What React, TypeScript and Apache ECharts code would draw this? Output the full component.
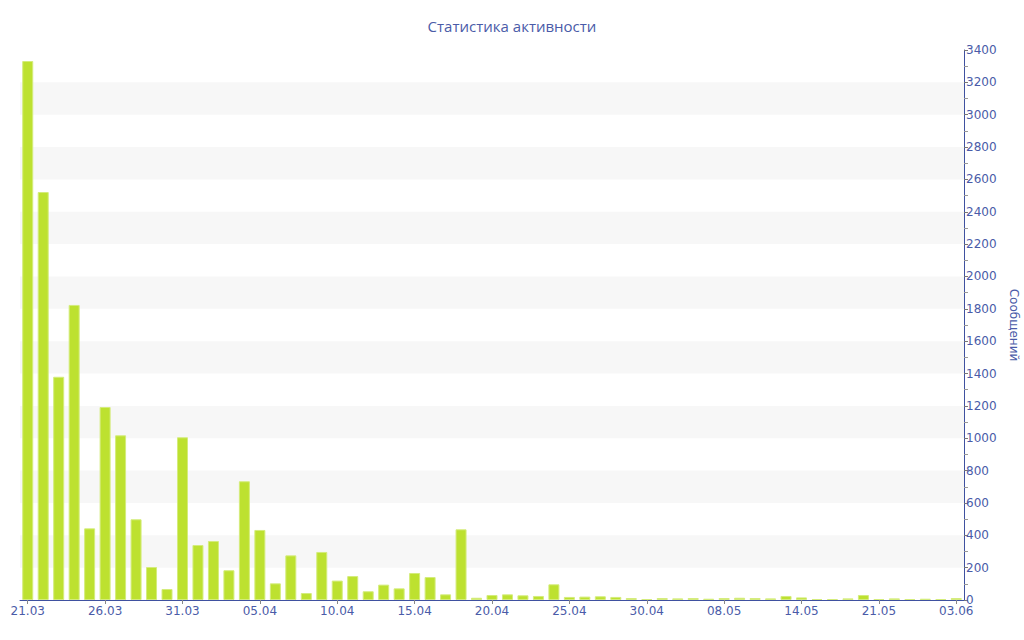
import React, { useEffect, useRef } from "react";
import * as echarts from "echarts";

const dates = [
  "21.03", "22.03", "23.03", "24.03", "25.03", "26.03", "27.03", "28.03", "29.03", "30.03",
  "31.03", "01.04", "02.04", "03.04", "04.04", "05.04", "06.04", "07.04", "08.04", "09.04",
  "10.04", "11.04", "12.04", "13.04", "14.04", "15.04", "16.04", "17.04", "18.04", "19.04",
  "20.04", "21.04", "22.04", "23.04", "24.04", "25.04", "26.04", "27.04", "28.04", "29.04",
  "30.04", "01.05", "03.05", "05.05", "06.05", "08.05", "09.05", "10.05", "11.05", "12.05",
  "14.05", "15.05", "16.05", "18.05", "19.05", "21.05", "23.05", "25.05", "28.05", "31.05",
  "03.06",
];

const messages = [
  3332, 2522, 1380, 1824, 443, 1193, 1018, 499, 204, 68,
  1006, 340, 365, 184, 734, 433, 103, 276, 43, 297,
  120, 148, 54, 95, 72, 167, 142, 35, 437, 14,
  31, 35, 29, 25, 97, 19, 21, 23, 19, 12,
  6, 12, 10, 12, 8, 12, 14, 12, 10, 25,
  16, 6, 6, 10, 31, 6, 10, 6, 8, 6,
  12,
];

const titleText = "Статистика активности";
const yAxisName = "Сообщений";

const axisColor = "#3f51a0";
const textColor = "#4a5ba8";

export default function App() {
  const ref = useRef<HTMLDivElement>(null);
  useEffect(() => {
    if (!ref.current) return;
    const chart = echarts.init(ref.current, null, { renderer: "svg" });
    chart.setOption({
      animation: false,
      backgroundColor: "#ffffff",
      title: {
        text: titleText,
        left: "center",
        top: 13,
        textStyle: {
          color: textColor,
          fontSize: 15,
          fontWeight: "normal",
          fontFamily: "Open Sans",
        },
      },
      grid: {
        left: 20,
        right: 60,
        top: 50,
        bottom: 40,
        containLabel: false,
        outerBoundsMode: "none",
      },
      xAxis: {
        type: "category",
        data: dates,
        axisLine: { lineStyle: { color: axisColor, width: 1 } },
        axisTick: {
          show: true,
          interval: 4,
          alignWithLabel: true,
          length: 4,
          lineStyle: { color: "#888" },
        },
        axisLabel: {
          interval: 4,
          color: textColor,
          fontSize: 12,
          fontFamily: "DejaVu Sans",
          margin: 5,
        },
        splitLine: { show: false },
      },
      yAxis: {
        type: "value",
        position: "right",
        min: 0,
        max: 3400,
        interval: 200,
        name: yAxisName,
        nameLocation: "middle",
        nameRotate: -90,
        nameGap: 44,
        nameTextStyle: {
          color: textColor,
          fontSize: 12,
          fontFamily: "DejaVu Sans",
        },
        axisLine: { show: true, lineStyle: { color: axisColor, width: 1 } },
        axisTick: { show: true, length: 4, lineStyle: { color: "#777" } },
        minorTick: { show: true, splitNumber: 2, length: 4, lineStyle: { color: "#999" } },
        axisLabel: {
          color: textColor,
          fontSize: 12,
          fontFamily: "DejaVu Sans",
          margin: 2,
          formatter: (v: number) => String(v),
        },
        splitLine: { show: false },
        splitArea: {
          show: true,
          areaStyle: { color: ["rgba(255,255,255,0)", "#f7f7f7"] },
        },
      },
      series: [
        {
          type: "bar",
          data: messages,
          barWidth: 11,
          itemStyle: {
            color: "#bde130",
            borderColor: "#d4ec7c",
            borderWidth: 1,
          },
        },
      ],
    });
    return () => chart.dispose();
  }, []);
  return (
    <div
      ref={ref}
      style={{ position: "fixed", left: 0, top: 0, width: 1024, height: 640 }}
    />
  );
}
